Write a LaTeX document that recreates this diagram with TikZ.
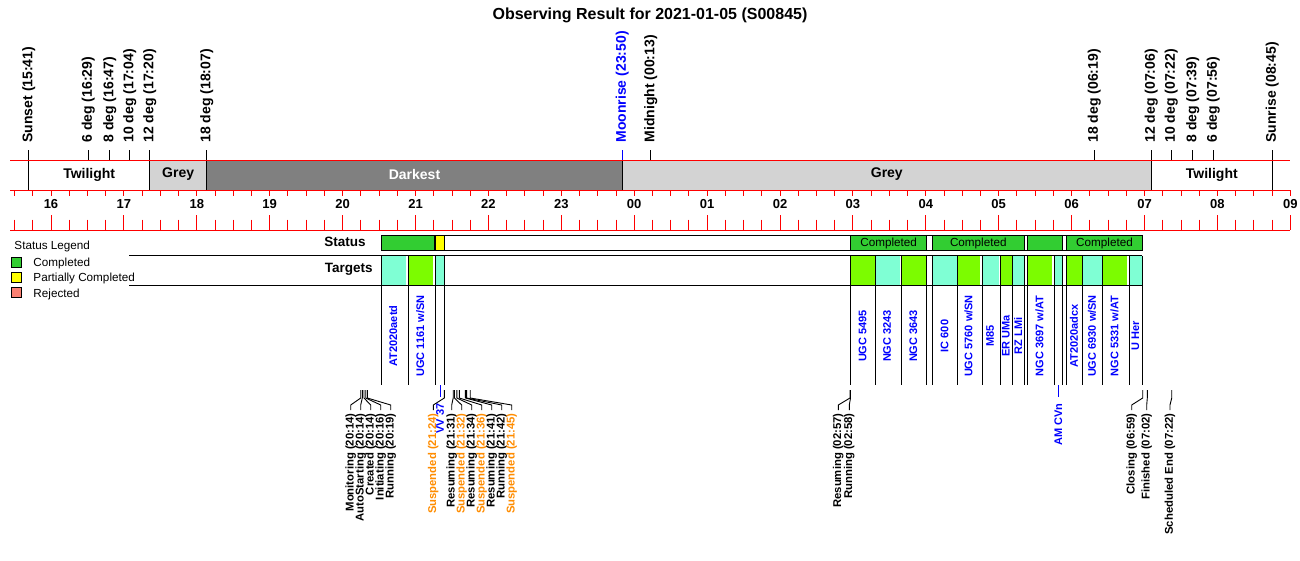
\documentclass[tikz,border=0pt]{standalone}
\usepackage{fontspec}
\setmainfont{Liberation Sans}
\definecolor{bandgrey}{RGB}{211,211,211}
\definecolor{banddark}{RGB}{128,128,128}
\definecolor{axisred}{RGB}{255,0,0}
\definecolor{statgreen}{RGB}{50,205,50}
\definecolor{statyellow}{RGB}{255,255,0}
\definecolor{statsalmon}{RGB}{250,128,114}
\definecolor{tgtgreen}{RGB}{124,252,0}
\definecolor{tgtcyan}{RGB}{127,255,212}
\definecolor{tgtblue}{RGB}{0,0,255}
\definecolor{susorange}{RGB}{255,140,0}

\begin{document}
\begin{tikzpicture}[x=1pt, y=-1pt, line width=0.9pt,
    toplbl/.style={rotate=90, anchor=west, inner sep=0pt, font=\bfseries\fontsize{14}{14}\selectfont},
    evlbl/.style={rotate=90, anchor=east, inner sep=0pt, font=\bfseries\fontsize{11.3}{12}\selectfont},
    tgtlbl/.style={rotate=90, inner sep=0pt, text=tgtblue, font=\bfseries\fontsize{11}{12}\selectfont},
    bandlbl/.style={inner sep=0pt, font=\bfseries\fontsize{14}{14}\selectfont},
    hourlbl/.style={inner sep=0pt, font=\bfseries\fontsize{13}{13}\selectfont},
    rowlbl/.style={anchor=east, inner sep=0pt, font=\bfseries\fontsize{13.5}{14}\selectfont},
    legtxt/.style={anchor=west, inner sep=0pt, font=\fontsize{11.7}{12}\selectfont},
    donelbl/.style={inner sep=0pt, font=\fontsize{11.7}{12}\selectfont}]

\useasboundingbox (0,0) rectangle (1300,560);

\node[font=\bfseries\fontsize{16}{16}\selectfont] (title) at (650,15) {Observing Result for 2021-01-05 (S00845)};

% night band
\fill[bandgrey] (149.7,160) rectangle (206.7,190);
\fill[banddark] (206.7,160) rectangle (622.3,190);
\fill[bandgrey] (622.3,160) rectangle (1151.3,190);
\foreach \x in {28.7,149.7,206.7,622.3,1151.3,1272.3}
  \draw (\x,160) -- (\x,190);
\node[bandlbl] (twl1) at (89.2,174.5) {Twilight};
\node[bandlbl] (grey1) at (178.2,174.5) {Grey};
\node[bandlbl, text=white] (dark) at (414.5,174.5) {Darkest};
\node[bandlbl] (grey2) at (886.8,174.5) {Grey};
\node[bandlbl] (twl2) at (1211.8,174.5) {Twilight};

% sun and moon events
\foreach \x/\t/\c [count=\i] in {28.7/Sunset (15:41)/black, 88.3/6 deg (16:29)/black,
    109.7/8 deg (16:47)/black, 129.7/10 deg (17:04)/black, 149.7/12 deg (17:20)/black,
    206.7/18 deg (18:07)/black, 622.3/Moonrise (23:50)/tgtblue, 650.7/Midnight (00:13)/black,
    1094.3/18 deg (06:19)/black, 1151.3/12 deg (07:06)/black, 1171.3/10 deg (07:22)/black,
    1192.7/8 deg (07:39)/black, 1213.3/6 deg (07:56)/black, 1272.3/Sunrise (08:45)/black}{
  \node[toplbl, text=\c] (top\i) at (\x,143) {\t};
  \draw[\c] (\x,150) -- (\x,160);
}

% time axis
\draw[axisred] (10,160) -- (1290,160);
\draw[axisred] (10,190) -- (1290,190);
\draw[axisred] (10,230) -- (1290,230);
\foreach \k in {-2,...,68}{
  \pgfmathsetmacro\tx{51+18.225*\k}
  \pgfmathsetmacro\ty{ifthenelse(mod(\k+8,4)==0,215,219.5)}
  \draw[axisred] (\tx,190) -- (\tx,196);
  \draw[axisred] (\tx,\ty) -- (\tx,230);
}
\foreach \h [count=\i from 0] in {16,17,18,19,20,21,22,23,00,01,02,03,04,05,06,07,08,09}
  \node[hourlbl] (hr\i) at (51+72.9*\i,204) {\h};

% legend
\node[legtxt] (legtitle) at (14,246) {Status Legend};
\foreach \c/\t/\y [count=\i] in {statgreen/Completed/262, statyellow/Partially Completed/277, statsalmon/Rejected/292.5}{
  \draw[fill=\c] (11.7,\y-5) rectangle (21.7,\y+5);
  \node[legtxt] (leg\i) at (33,\y+1.5) {\t};
}

% status row
\node[rowlbl] (statuslbl) at (366,242) {Status};
\draw (381.3,235.7) rectangle (1142.3,250.3);
\foreach \a/\b/\c in {381.3/434.3/statgreen, 435.7/444.3/statyellow, 850.7/926.7/statgreen,
    932.3/1024.3/statgreen, 1027.7/1062.7/statgreen, 1066.7/1142.3/statgreen}
  \draw[fill=\c] (\a,235.7) rectangle (\b,250.3);
\foreach \x [count=\i] in {888.7,978.3,1104.5}
  \node[donelbl] (done\i) at (\x,243.5) {Completed};

% targets row
\node[rowlbl] (targetslbl) at (373,269.5) {Targets};
\foreach \a/\b/\c in {381.3/406.3/tgtcyan, 408.3/433.3/tgtgreen, 435.7/444.3/tgtcyan,
    850.7/875.3/tgtgreen, 875.3/899.7/tgtcyan, 901/926.7/tgtgreen, 932.3/957.7/tgtcyan,
    957.7/980.3/tgtgreen, 982/998.7/tgtcyan, 1000.3/1011.7/tgtgreen, 1012.7/1024.3/tgtcyan,
    1027.7/1052.3/tgtgreen, 1054.3/1062.3/tgtcyan, 1066.7/1082.3/tgtgreen,
    1082.3/1102.7/tgtcyan, 1102.7/1127.3/tgtgreen, 1129.3/1142.3/tgtcyan}
  \fill[\c] (\a,255.7) rectangle (\b,285);
\draw (129,255.7) -- (1142.3,255.7);
\draw (129,285) -- (1142.3,285);
\foreach \x in {381.3,408.3,435.7,444.3,850.7,875.3,901,926.7,932.3,957.7,982,1000.3,
    1012.7,1024.3,1027.7,1054.3,1062.3,1066.7,1082.3,1102.7,1129.3,1142.3}
  \draw (\x,255.7) -- (\x,385);
\foreach \x/\t [count=\i] in {393.3/AT2020aetd, 420.3/{UGC 1161 w/SN}, 862.5/UGC 5495,
    887/NGC 3243, 913.3/NGC 3643, 944.5/IC 600, 968.5/{UGC 5760 w/SN}, 990/M85,
    1005.8/ER UMa, 1018/RZ LMi, 1039.5/{NGC 3697 w/AT}, 1074/AT2020adcx,
    1092/{UGC 6930 w/SN}, 1114.5/{NGC 5331 w/AT}, 1135.3/U Her}
  \node[tgtlbl] (tgl\i) at (\x,336) {\t};
\node[tgtlbl, anchor=east] (vv) at (440,403) {VV 37};
\draw[tgtblue] (440,385) -- ([yshift=6pt]vv.east);
\node[tgtlbl, anchor=east] (amcvn) at (1058.3,403) {AM CVn};
\draw[tgtblue] (1058.3,385) -- ([yshift=6pt]amcvn.east);

% run log
\foreach \tx/\lx/\t/\c [count=\i] in {360.7/350.7/Monitoring (20:14)/black,
    362.3/360.7/AutoStarting (20:14)/black, 364/370.7/Created (20:14)/black,
    365.7/380.7/Initiating (20:16)/black, 367.3/390.7/Running (20:19)/black,
    444.3/433.3/Suspended (21:24)/susorange, 453.2/451.7/Resuming (21:31)/black,
    454.4/461.7/Suspended (21:32)/susorange, 456.8/471.7/Resuming (21:34)/black,
    459.3/481.7/Suspended (21:36)/susorange, 465.4/491.7/Resuming (21:41)/black,
    466.6/501.7/Running (21:42)/black, 470.2/511.7/Suspended (21:45)/susorange,
    850/838.3/Resuming (02:57)/black, 850.5/849.3/Running (02:58)/black,
    1142.7/1131.7/Closing (06:59)/black, 1147.3/1146.7/Finished (07:02)/black,
    1171.7/1170/Scheduled End (07:22)/black}{
  \node[evlbl, text=\c] (ev\i) at (\lx,413) {\t};
  \draw (\tx,390) -- (\tx,398) -- (\lx,405) -- ([yshift=3pt]ev\i.east);
}
\end{tikzpicture}
\end{document}
